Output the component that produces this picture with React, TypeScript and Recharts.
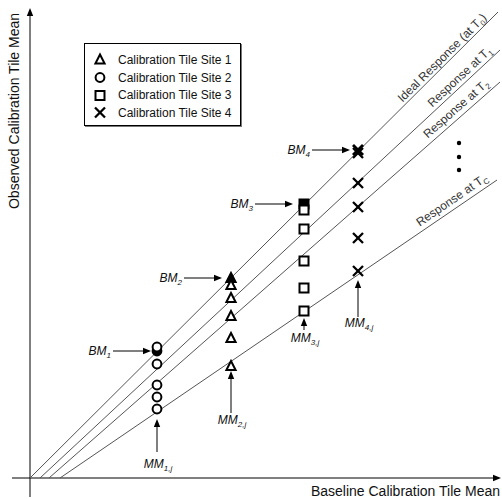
import { ComposedChart, XAxis, YAxis, Line, Scatter, ReferenceLine, ReferenceDot, Legend } from "recharts"

const WIDTH = 502
const HEIGHT = 499
const FONT = "'Liberation Sans', Arial, sans-serif"

// observed vs baseline means, arbitrary units (origin at 0,0)
const siteNames = ["Calibration Tile Site 1", "Calibration Tile Site 2", "Calibration Tile Site 3", "Calibration Tile Site 4"]
const siteShapes = ["triangle", "circle", "square", "cross"]
const siteX = [201, 127, 274, 328]
const site1Y = [193, 180, 162, 140, 112]
const site2Y = [131, 114, 93, 81, 69]
const site3Y = [268, 249, 217, 190, 167]
const site4Y = [325, 295, 271, 240, 207]

// baseline means BM1..BM4 (left to right)
const bmX = [127, 201, 274, 328]
const bmY = [127, 200, 274, 328]
const bmShape = ["circle", "triangle", "square", "cross"]
const bmGap = [6, 9, 11, 8]

// measured means MM1j..MM4j (arrow tip, arrow tail, label baseline)
const mmTipY = [59, 107, 160, 198]
const mmTailY = [26, 65, 148, 161]
const mmTextY = [10, 54, 136, 151]

// response lines
const responseText = ["Ideal Response (at T", "Response at T", "Response at T", "Response at T"]
const responseSub = ["0", "1", "2", "C"]
const responseAfter = [")", "", "", ""]
const responseStartX = [0, 10, 19, 30]
const responseEndX = [468, 470, 470, 467]
const responseEndY = [466, 428, 396, 298]
const responseLabelX = [417, 435, 432, 427]
const responseLabelDy = [-3, -4, -5, -5]

const ellipsisX = 429
const ellipsisY = [335, 321, 308]

const Marker = ({ kind, cx, cy, filled }: any) => {
  const fill = filled ? "#000" : "#fff"
  if (kind === "triangle")
    return <polygon points={`${cx},${cy - 5} ${cx + 4.6},${cy + 4} ${cx - 4.6},${cy + 4}`} fill={fill} stroke="#000" strokeWidth={2} />
  if (kind === "circle") return <circle cx={cx} cy={cy} r={4.4} fill={fill} stroke="#000" strokeWidth={2} />
  if (kind === "square") return <rect x={cx - 4.5} y={cy - 4.5} width={9} height={9} fill={fill} stroke="#000" strokeWidth={2} />
  return (
    <g stroke="#000" strokeWidth={filled ? 2.8 : 2.3}>
      <line x1={cx - 5} y1={cy - 5} x2={cx + 5} y2={cy + 5} />
      <line x1={cx - 5} y1={cy + 5} x2={cx + 5} y2={cy - 5} />
    </g>
  )
}

const Arrow = (p: any) => {
  const { x1, y1, x2, y2 } = p
  const len = Math.hypot(x2 - x1, y2 - y1)
  const ux = (x2 - x1) / len
  const uy = (y2 - y1) / len
  const bx = x2 - ux * 8
  const by = y2 - uy * 8
  return (
    <g>
      <line x1={x1} y1={y1} x2={bx} y2={by} stroke="#000" strokeWidth={1} />
      <polygon points={`${x2},${y2} ${bx - uy * 3.2},${by + ux * 3.2} ${bx + uy * 3.2},${by - ux * 3.2}`} fill="#000" />
    </g>
  )
}

const renderLegend = () => (
  <div style={{ border: "1px solid #000", boxShadow: "1px 1px 0 #777", background: "#fff", width: 157, height: 83, paddingTop: 7, boxSizing: "border-box" }}>
    {siteNames.map((name, i) => (
      <div key={name} style={{ display: "flex", alignItems: "center", height: 17.7 }}>
        <svg width={30} height={17}>
          <Marker kind={siteShapes[i]} cx={15} cy={8.5} />
        </svg>
        <span style={{ marginLeft: 3, fontSize: 12, fontFamily: FONT, color: "#111" }}>{name}</span>
      </div>
    ))}
  </div>
)

const sites = [site1Y, site2Y, site3Y, site4Y].map((ys, i) => ys.map((y) => ({ x: siteX[i], y })))
const bmData = bmX.map((x, i) => ({ x, y: bmY[i], kind: bmShape[i] }))
const lines = responseText.map((_, i) => [
  { x: responseStartX[i], y: 0 },
  { x: responseEndX[i], y: responseEndY[i] },
])
const ellipsis = ellipsisY.map((y) => ({ x: ellipsisX, y }))

export default function App() {
  return (
    <div style={{ position: "absolute", left: 0, top: 0, width: WIDTH, height: HEIGHT, background: "#fff" }}>
      <ComposedChart width={WIDTH} height={HEIGHT} margin={{ top: 0, right: 0, bottom: 0, left: 0 }}>
        <XAxis type="number" dataKey="x" domain={[-30, 472]} hide allowDataOverflow />
        <YAxis type="number" dataKey="y" domain={[-21, 478]} hide allowDataOverflow />

        {/* axes with arrow heads */}
        <ReferenceLine segment={[{ x: -18, y: 0 }, { x: 471, y: 0 }]} shape={Arrow} ifOverflow="visible" />
        <ReferenceLine segment={[{ x: 0, y: -19 }, { x: 0, y: 470 }]} shape={Arrow} ifOverflow="visible" />

        <Scatter
          data={bmData}
          isAnimationActive={false}
          shape={(p: any) => <Marker kind={p.payload.kind} cx={p.cx} cy={p.cy} filled />}
        />
        {sites.map((data, i) => (
          <Scatter
            key={siteNames[i]}
            name={siteNames[i]}
            data={data}
            isAnimationActive={false}
            shape={(p: any) => <Marker kind={siteShapes[i]} cx={p.cx} cy={p.cy} />}
          />
        ))}
        {lines.map((data, i) => (
          <Line
            key={`resp-${i}`}
            data={data}
            dataKey="y"
            type="linear"
            stroke="#555"
            strokeWidth={1}
            dot={false}
            activeDot={false}
            isAnimationActive={false}
          />
        ))}
        <Scatter
          data={ellipsis}
          isAnimationActive={false}
          shape={(p: any) => <circle cx={p.cx} cy={p.cy} r={2.2} fill="#000" />}
        />

        {/* response line labels */}
        {responseText.map((t, i) => {
          const slope = responseEndY[i] / (responseEndX[i] - responseStartX[i])
          const angle = (-Math.atan(slope) * 180) / Math.PI
          const lx = responseLabelX[i]
          const ly = (lx - responseStartX[i]) * slope
          return (
            <ReferenceDot
              key={`rl-${i}`}
              x={lx}
              y={ly}
              r={0}
              ifOverflow="visible"
              shape={(p: any) => (
                <text
                  x={p.cx}
                  y={p.cy}
                  dy={responseLabelDy[i]}
                  transform={`rotate(${angle}, ${p.cx}, ${p.cy})`}
                  textAnchor="middle"
                  fontSize={12}
                  fontFamily={FONT}
                  fill="#333"
                >
                  {t}
                  <tspan dy={3} fontSize={8}>{responseSub[i]}</tspan>
                  {responseAfter[i] && <tspan dy={-3}>{responseAfter[i]}</tspan>}
                </text>
              )}
            />
          )
        })}

        {/* BM annotations */}
        {bmX.map((x, i) => {
          const end = x - bmGap[i]
          const start = end - 38
          return [
            <ReferenceLine key={`bma-${i}`} segment={[{ x: start, y: bmY[i] }, { x: end, y: bmY[i] }]} shape={Arrow} ifOverflow="visible" />,
            <ReferenceDot
              key={`bmt-${i}`}
              x={start - 2}
              y={bmY[i] - 4}
              r={0}
              ifOverflow="visible"
              shape={(p: any) => (
                <text x={p.cx} y={p.cy} textAnchor="end" fontSize={12} fontStyle="italic" fontFamily={FONT} fill="#111">
                  BM<tspan dy={3} fontSize={8}>{i + 1}</tspan>
                </text>
              )}
            />,
          ]
        })}

        {/* MM annotations */}
        {bmX.map((x, i) => [
          <ReferenceLine key={`mma-${i}`} segment={[{ x, y: mmTailY[i] }, { x, y: mmTipY[i] }]} shape={Arrow} ifOverflow="visible" />,
          <ReferenceDot
            key={`mmt-${i}`}
            x={x + 1}
            y={mmTextY[i]}
            r={0}
            ifOverflow="visible"
            shape={(p: any) => (
              <text x={p.cx} y={p.cy} textAnchor="middle" fontSize={12} fontStyle="italic" fontFamily={FONT} fill="#111">
                MM<tspan dy={3} fontSize={8}>{`${i + 1},j`}</tspan>
              </text>
            )}
          />,
        ])}

        {/* axis titles */}
        <ReferenceDot
          x={-11}
          y={367}
          r={0}
          ifOverflow="visible"
          shape={(p: any) => (
            <text x={p.cx} y={p.cy} transform={`rotate(-90, ${p.cx}, ${p.cy})`} textAnchor="middle" fontSize={14} fontFamily={FONT} fill="#111">
              Observed Calibration Tile Mean
            </text>
          )}
        />
        <ReferenceDot
          x={470}
          y={-18}
          r={0}
          ifOverflow="visible"
          shape={(p: any) => (
            <text x={p.cx} y={p.cy} textAnchor="end" fontSize={14} fontFamily={FONT} fill="#111">
              Baseline Calibration Tile Mean
            </text>
          )}
        />

        <Legend
          content={renderLegend}
          layout="horizontal"
          verticalAlign="middle"
          align="center"
          wrapperStyle={{ left: 84, top: 43, width: 157, height: 83 }}
        />
      </ComposedChart>
    </div>
  )
}
